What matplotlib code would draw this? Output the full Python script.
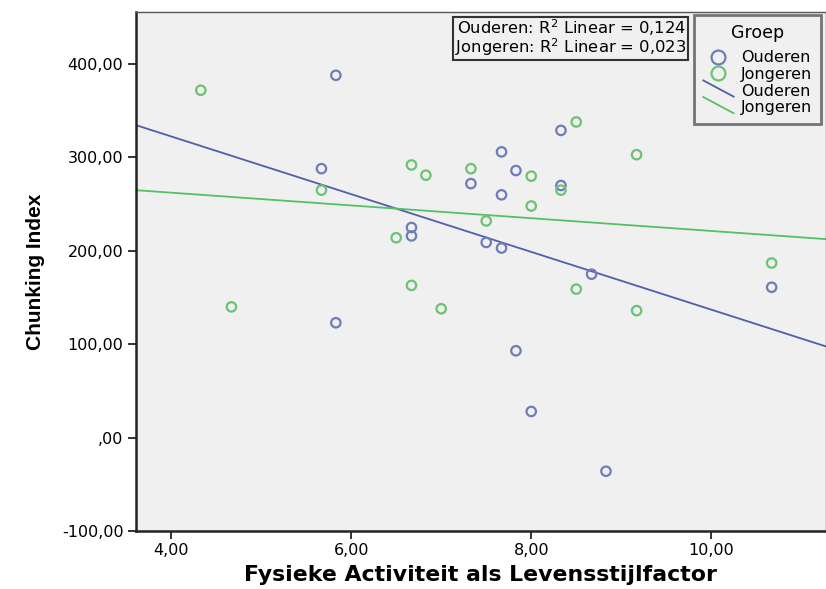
import numpy as np
import matplotlib
matplotlib.use("Agg")
import matplotlib.pyplot as plt
from matplotlib.lines import Line2D
from matplotlib.legend_handler import HandlerBase

# Data
ouderen_x = [5.83, 5.67, 7.33, 6.67, 6.67, 5.83, 8.33, 7.67, 7.83, 7.67, 8.33, 7.50, 7.67, 8.67, 10.67, 7.83, 8.00, 8.83]
ouderen_y = [388, 288, 272, 225, 216, 123, 329, 306, 286, 260, 270, 209, 203, 175, 161, 93, 28, -36]
jongeren_x = [4.33, 5.67, 6.67, 6.83, 7.33, 6.50, 6.67, 4.67, 7.00, 8.50, 9.17, 8.00, 8.33, 8.00, 7.50, 10.67, 8.50, 9.17]
jongeren_y = [372, 265, 292, 281, 288, 214, 163, 140, 138, 338, 303, 280, 265, 248, 232, 187, 159, 136]

x_ticks = [4, 6, 8, 10]
x_ticklabels = ["4,00", "6,00", "8,00", "10,00"]
y_ticks = [-100, 0, 100, 200, 300, 400]
y_ticklabels = ["-100,00", ",00", "100,00", "200,00", "300,00", "400,00"]
r2_labels = ["Ouderen: R$^2$ Linear = 0,124", "Jongeren: R$^2$ Linear = 0,023"]
groups = ["Ouderen", "Jongeren"]

blue = "#6f7cb8"
blue_line = "#4f5fa8"
green = "#6cc273"
green_line = "#55c065"


class DiagHandler(HandlerBase):
    def create_artists(self, legend, orig_handle, xdescent, ydescent, width, height, fontsize, trans):
        x0 = -xdescent
        y0 = -ydescent
        ln = Line2D([x0, x0 + width], [y0 + height * 1.35, y0 - height * 0.1],
                    color=orig_handle.get_color(), lw=orig_handle.get_linewidth(), transform=trans)
        return [ln]


fig = plt.figure(figsize=(8.26, 5.89), dpi=100)
ax = fig.add_axes([0.1646, 0.0985, 0.835, 0.881])
ax.set_facecolor("#f0f0f0")

xlim = (3.61, 11.27)
ylim = (-100, 455.7)

ax.scatter(ouderen_x, ouderen_y, s=46, facecolors="none", edgecolors=blue, linewidths=1.6, zorder=3)
ax.scatter(jongeren_x, jongeren_y, s=46, facecolors="none", edgecolors=green, linewidths=1.6, zorder=3)

xs = np.array(xlim)
b1, a1 = np.polyfit(ouderen_x, ouderen_y, 1)
b2, a2 = np.polyfit(jongeren_x, jongeren_y, 1)
ax.plot(xs, a1 + b1 * xs, color=blue_line, lw=1.3, zorder=2)
ax.plot(xs, a2 + b2 * xs, color=green_line, lw=1.3, zorder=2)

ax.set_xlim(xlim)
ax.set_ylim(ylim)
ax.set_xticks(x_ticks)
ax.set_xticklabels(x_ticklabels, fontsize=11.5, family="DejaVu Sans")
ax.set_yticks(y_ticks)
ax.set_yticklabels(y_ticklabels, fontsize=11.5, family="DejaVu Sans")
ax.tick_params(direction="out", length=6, width=1.3, color="#222222", pad=3)

for s in ["left", "bottom"]:
    ax.spines[s].set_linewidth(1.8)
    ax.spines[s].set_color("#222222")
for s in ["top", "right"]:
    ax.spines[s].set_linewidth(1.0)
    ax.spines[s].set_color("#555555")

ax.set_xlabel("Fysieke Activiteit als Levensstijlfactor", fontsize=15.8, fontweight="bold",
              family="DejaVu Sans", labelpad=5)
ax.set_ylabel("Chunking Index", fontsize=15, fontweight="bold",
              family="Liberation Sans", labelpad=12)

# R^2 box
ax.text(0.798, 0.99, "\n".join(r2_labels), transform=ax.transAxes, ha="right", va="top",
        fontsize=11.8, family="DejaVu Sans", linespacing=0.92,
        bbox=dict(boxstyle="square,pad=0.1", facecolor="#f0f0f0", edgecolor="#333333", linewidth=1.5))

handles = [
    Line2D([], [], marker="o", linestyle="none", markerfacecolor="none", markeredgecolor=blue, markeredgewidth=1.6, markersize=10),
    Line2D([], [], marker="o", linestyle="none", markerfacecolor="none", markeredgecolor=green, markeredgewidth=1.6, markersize=10),
    Line2D([], [], color=blue_line, lw=1.3),
    Line2D([], [], color=green_line, lw=1.3),
]
leg = ax.legend(handles, groups + groups, title="Groep",
                loc="upper right", bbox_to_anchor=(0.993, 0.994), frameon=True, fancybox=False,
                prop={"family": "DejaVu Sans", "size": 11.5},
                title_fontproperties={"family": "DejaVu Sans", "size": 12.5},
                handler_map={handles[2]: DiagHandler(), handles[3]: DiagHandler()},
                handlelength=1.9, handletextpad=0.45, labelspacing=0.1, borderpad=0.55, borderaxespad=0.0)
leg.get_frame().set_edgecolor("#555555")
leg.get_frame().set_linewidth(2)
leg.get_frame().set_facecolor("#f0f0f0")
leg._legend_box.sep = 6

fig.savefig("out.png", dpi=100, facecolor="white")
